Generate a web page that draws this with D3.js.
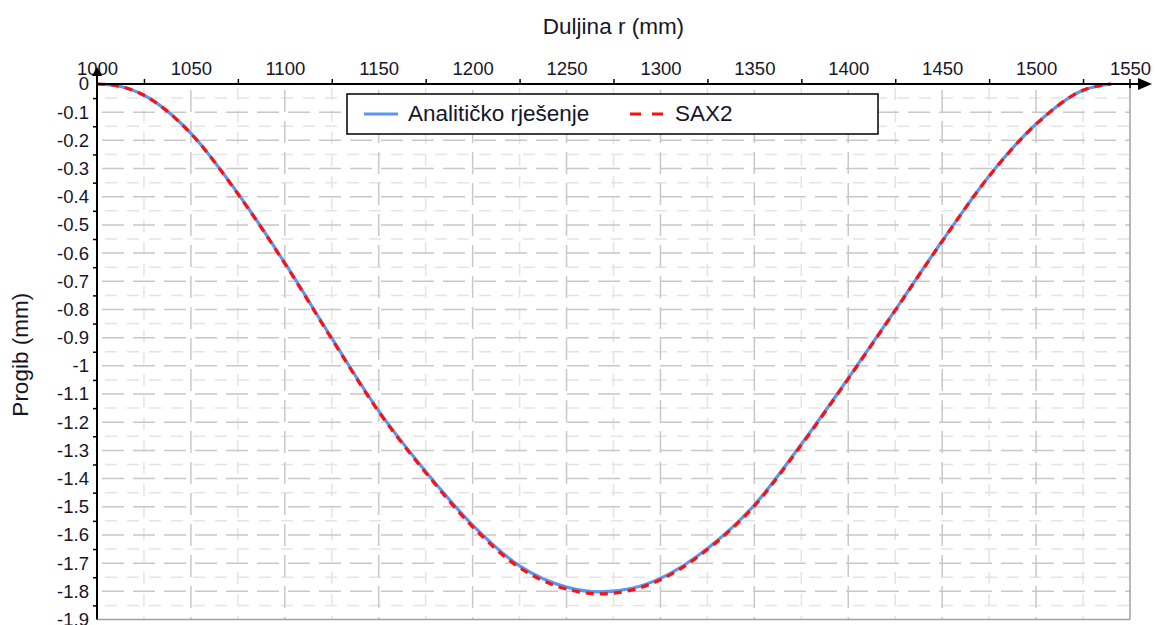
<!DOCTYPE html>
<html><head><meta charset="utf-8">
<script src="https://cdn.jsdelivr.net/npm/d3@7"></script>
<style>
html,body{margin:0;padding:0;background:#fff;}
svg{display:block;font-family:"Liberation Sans",Arial,sans-serif;}
</style></head>
<body><svg id="c" width="1155" height="625"></svg>
<script>
// ---- data ----
const rValues = [1000,1012,1025,1050,1075,1100,1125,1150,1175,1200,1225,1250,1268,1285,1300,1325,1350,1375,1400,1425,1450,1475,1500,1525,1540];
const analytical = [0,-0.008,-0.04,-0.175,-0.388,-0.635,-0.902,-1.16,-1.375,-1.565,-1.71,-1.785,-1.802,-1.789,-1.754,-1.648,-1.494,-1.278,-1.044,-0.802,-0.557,-0.326,-0.142,-0.022,0];
const sax2 = [0,-0.008,-0.04,-0.176,-0.39,-0.637,-0.905,-1.163,-1.379,-1.571,-1.716,-1.792,-1.809,-1.795,-1.759,-1.652,-1.497,-1.281,-1.046,-0.803,-0.558,-0.327,-0.143,-0.022,0];
const xTickValues = [1000,1050,1100,1150,1200,1250,1300,1350,1400,1450,1500,1550];
const xTickLabels = ["1000","1050","1100","1150","1200","1250","1300","1350","1400","1450","1500","1550"];
const yTickValues = [0,-0.1,-0.2,-0.3,-0.4,-0.5,-0.6,-0.7,-0.8,-0.9,-1,-1.1,-1.2,-1.3,-1.4,-1.5,-1.6,-1.7,-1.8,-1.9];
const yTickLabels = ["0","-0.1","-0.2","-0.3","-0.4","-0.5","-0.6","-0.7","-0.8","-0.9","-1","-1.1","-1.2","-1.3","-1.4","-1.5","-1.6","-1.7","-1.8","-1.9"];
const seriesNames = ["Analitičko rješenje","SAX2"];
const xTitle = "Duljina r (mm)";
const yTitle = "Progib (mm)";

// ---- layout ----
const svg = d3.select("#c");
const x = d3.scaleLinear().domain([1000,1550]).range([97,1130]);
const y = d3.scaleLinear().domain([0,-1.9]).range([84,619.5]);
const L = 97, R = 1130, T = 84, B = 619.5;
const FONT = "Liberation Sans, Arial, sans-serif";
const TXT = "#15152a";

// grid
const xMajor = d3.range(1050,1550,50);
const xMinor = d3.range(1025,1550,50);
const yMajor = d3.range(1,19).map(i=>-i/10);
const yMinor = d3.range(0,19).map(i=>-(i*0.1+0.05));
const g = svg.append("g");
g.selectAll(".hmin").data(yMinor).join("line")
  .attr("x1",L+2).attr("x2",R).attr("y1",d=>y(d)).attr("y2",d=>y(d))
  .attr("stroke","#e4e4e4").attr("stroke-width",1.5).attr("stroke-dasharray","12,10").attr("stroke-dashoffset",-6);
g.selectAll(".vmin").data(xMinor).join("line")
  .attr("x1",d=>x(d)).attr("x2",d=>x(d)).attr("y1",T).attr("y2",B)
  .attr("stroke","#e4e4e4").attr("stroke-width",1.5).attr("stroke-dasharray","12,10").attr("stroke-dashoffset",-4);
g.selectAll(".hmaj").data(yMajor).join("line")
  .attr("x1",L+2).attr("x2",R).attr("y1",d=>y(d)).attr("y2",d=>y(d))
  .attr("stroke","#c8c8c8").attr("stroke-width",1.5).attr("stroke-dasharray","22,9").attr("stroke-dashoffset",-3);
g.selectAll(".vmaj").data(xMajor).join("line")
  .attr("x1",d=>x(d)).attr("x2",d=>x(d)).attr("y1",T).attr("y2",B)
  .attr("stroke","#c8c8c8").attr("stroke-width",1.5).attr("stroke-dasharray","22,9").attr("stroke-dashoffset",-6);

// plot borders (right/bottom)
svg.append("line").attr("x1",R).attr("x2",R).attr("y1",T).attr("y2",B).attr("stroke","#a0a0a0").attr("stroke-width",1.5);
svg.append("line").attr("x1",L).attr("x2",R).attr("y1",B).attr("y2",B).attr("stroke","#a0a0a0").attr("stroke-width",1.5);

// curves
const line = (vals)=>d3.line().x((d,i)=>x(rValues[i])).y(d=>y(d)).curve(d3.curveMonotoneX)(vals);
svg.append("path").attr("d",line(analytical)).attr("fill","none").attr("stroke","#5b97ee").attr("stroke-width",3.2);
svg.append("path").attr("d",line(sax2)).attr("fill","none").attr("stroke","#ff1010").attr("stroke-width",3.2).attr("stroke-dasharray","8,6");

// x axis (top)
const xAxis = d3.axisTop(x).tickValues(xTickValues).tickFormat((d,i)=>xTickLabels[i]).tickSize(0).tickPadding(9);
const xa = svg.append("g").attr("transform",`translate(0,${T})`).call(xAxis);
xa.select(".domain").remove();
xa.selectAll("text").attr("font-size",18.5).attr("fill",TXT).attr("font-family",FONT);
const xMinorAxis = d3.axisTop(x).tickValues(xMinor).tickFormat("").tickSizeInner(5).tickSizeOuter(0);
const xm = svg.append("g").attr("transform",`translate(0,${T})`).call(xMinorAxis);
xm.select(".domain").remove();
xm.selectAll("line").attr("stroke","#000").attr("stroke-width",1.5);
svg.append("line").attr("x1",R).attr("x2",R).attr("y1",T-5).attr("y2",T+4).attr("stroke","#000").attr("stroke-width",1.5);

// y axis
const yAxis = d3.axisLeft(y).tickValues(yTickValues).tickFormat((d,i)=>yTickLabels[i]).tickSize(0).tickPadding(8);
const ya = svg.append("g").attr("transform",`translate(${L},0)`).call(yAxis);
ya.select(".domain").remove();
ya.selectAll("text").attr("font-size",18.5).attr("fill",TXT).attr("font-family",FONT);
const yMinorAxis = d3.axisLeft(y).tickValues(yMinor).tickFormat("").tickSizeInner(4).tickSizeOuter(0);
const ym = svg.append("g").attr("transform",`translate(${L},0)`).call(yMinorAxis);
ym.select(".domain").remove();
ym.selectAll("line").attr("stroke","#000").attr("stroke-width",1.5);

// axis lines with arrows
svg.append("line").attr("x1",L).attr("x2",1142).attr("y1",T).attr("y2",T).attr("stroke","#000").attr("stroke-width",2);
svg.append("path").attr("d",`M1138,${T-6} L1152,${T} L1138,${T+6} Z`).attr("fill","#000");
svg.append("line").attr("x1",L).attr("x2",L).attr("y1",B).attr("y2",72).attr("stroke","#000").attr("stroke-width",2);
svg.append("path").attr("d",`M${L-5},76 L${L},67 L${L+5},76 Z`).attr("fill","#000");

// titles
svg.append("text").attr("x",(L+R)/2).attr("y",34).attr("text-anchor","middle").attr("font-size",22.5).attr("fill",TXT).text(xTitle);
svg.append("text").attr("transform",`translate(28,${(T+B)/2+3}) rotate(-90)`).attr("text-anchor","middle").attr("font-size",22.5).attr("fill",TXT).text(yTitle);

// legend
const lg = svg.append("g");
lg.append("rect").attr("x",347).attr("y",94).attr("width",531).attr("height",40).attr("fill","#fff").attr("stroke","#000").attr("stroke-width",1.5);
lg.append("line").attr("x1",364).attr("x2",398).attr("y1",114).attr("y2",114).attr("stroke","#5b97ee").attr("stroke-width",3);
lg.append("text").attr("x",408).attr("y",121).attr("font-size",22.5).attr("fill",TXT).text(seriesNames[0]);
lg.append("line").attr("x1",630).attr("x2",663).attr("y1",114).attr("y2",114).attr("stroke","#ff1010").attr("stroke-width",3).attr("stroke-dasharray","11,11");
lg.append("text").attr("x",675).attr("y",121).attr("font-size",22.5).attr("fill",TXT).text(seriesNames[1]);
</script></body></html>
